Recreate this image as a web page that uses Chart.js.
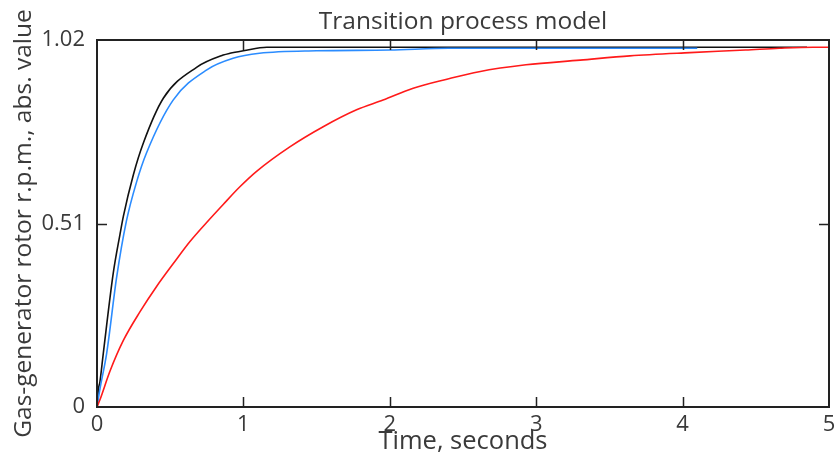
<!DOCTYPE html>
<html>
<head>
<meta charset="utf-8">
<script src="https://cdn.jsdelivr.net/npm/chart.js@4"></script>
<style>
  body { margin: 0; background: #fff; }
  #wrap { width: 836px; height: 457px; }
</style>
</head>
<body>
<div id="wrap"><canvas id="grafico" width="836" height="457"></canvas></div>
<script>
const tempoPreto = [0, 0.01, 0.02, 0.043, 0.111, 0.157, 0.18, 0.248, 0.316, 0.453, 0.68, 0.862, 0.908, 1.0, 1.16, 2.0, 3.0, 4.0, 4.85]
const valorPreto = [0, 0.05, 0.07, 0.149, 0.372, 0.48, 0.53, 0.645, 0.733, 0.858, 0.944, 0.978, 0.983, 0.99, 1.0, 1.0, 1.0, 1.0, 1.0]

const tempoAzul = [0, 0.02, 0.066, 0.134, 0.2, 0.27, 0.338, 0.52, 0.75, 0.93, 1.11, 1.5, 2.0, 2.4, 3.0, 4.1]
const valorAzul = [0, 0.05, 0.149, 0.36, 0.515, 0.625, 0.706, 0.853, 0.937, 0.969, 0.983, 0.99, 0.992, 0.997, 0.997, 0.997]

const tempoVermelho = [0, 0.02, 0.089, 0.18, 0.294, 0.407, 0.52, 0.635, 0.749, 0.862, 0.976, 1.09, 1.317, 1.545, 1.773, 1.954, 2.16, 2.39, 2.61, 2.93, 3.3, 3.64, 4.05, 4.43, 4.66, 4.89, 5.0]
const valorVermelho = [0, 0.02, 0.1, 0.185, 0.265, 0.335, 0.398, 0.46, 0.513, 0.563, 0.612, 0.655, 0.723, 0.779, 0.826, 0.853, 0.886, 0.911, 0.932, 0.951, 0.964, 0.976, 0.985, 0.992, 0.997, 1.0, 1.0]

const ticksY = [0, 0.51, 1.02]
const labelsY = ['0', '0.51', '1.02']
const ticksX = [0, 1, 2, 3, 4, 5]

function pontos(tempos, valores) {
    return tempos.map((t, i) => ({ x: t, y: valores[i] }))
}

const fonte = 'Open Sans'
const corTexto = '#3a3a3a'

// moldura e tracinhos para dentro
const moldura = {
    id: 'moldura',
    afterDraw(chart) {
        const ctx = chart.ctx
        const area = chart.chartArea
        const sx = chart.scales.x
        const sy = chart.scales.y
        const tam = 10
        ctx.save()
        ctx.strokeStyle = '#222'
        ctx.lineWidth = 2
        ctx.strokeRect(area.left, area.top, area.right - area.left, area.bottom - area.top)
        ctx.lineWidth = 1.5
        ctx.beginPath()
        for (let i = 1; i < ticksX.length - 1; i++) {
            const px = Math.round(sx.getPixelForValue(ticksX[i])) + 0.5
            ctx.moveTo(px, area.top)
            ctx.lineTo(px, area.top + tam)
            ctx.moveTo(px, area.bottom)
            ctx.lineTo(px, area.bottom - tam)
        }
        for (let i = 1; i < ticksY.length - 1; i++) {
            const py = Math.round(sy.getPixelForValue(ticksY[i])) + 0.5
            ctx.moveTo(area.left, py)
            ctx.lineTo(area.left + tam, py)
            ctx.moveTo(area.right, py)
            ctx.lineTo(area.right - tam, py)
        }
        ctx.stroke()
        ctx.restore()
    }
}

new Chart(document.getElementById('grafico'), {
    type: 'line',
    data: {
        datasets: [
            { data: pontos(tempoVermelho, valorVermelho), borderColor: '#ff1a1a', borderWidth: 1.6 },
            { data: pontos(tempoAzul, valorAzul), borderColor: '#2b8cff', borderWidth: 1.6 },
            { data: pontos(tempoPreto, valorPreto), borderColor: '#111111', borderWidth: 1.6 }
        ]
    },
    options: {
        responsive: false,
        animation: false,
        events: [],
        layout: { padding: { left: 0, right: 7, top: 0, bottom: 0 } },
        elements: { point: { radius: 0 }, line: { cubicInterpolationMode: 'monotone' } },
        plugins: {
            legend: { display: false },
            tooltip: { enabled: false }
        },
        scales: {
            x: {
                type: 'linear',
                position: 'bottom',
                min: 0,
                max: 5,
                afterBuildTicks: (scale) => { scale.ticks = ticksX.map(v => ({ value: v })) },
                afterFit: (scale) => { scale.height = 50 },
                grid: { display: false },
                border: { display: false },
                ticks: { color: corTexto, font: { family: fonte, size: 22 }, padding: -3, maxRotation: 0, autoSkip: false },
                title: { display: true, text: 'Time, seconds', color: corTexto, font: { family: fonte, size: 25.5 }, padding: { top: 0, bottom: 0 } }
            },
            topo: {
                type: 'linear',
                position: 'top',
                min: 0,
                max: 5,
                afterFit: (scale) => { scale.height = 40 },
                grid: { display: false },
                border: { display: false },
                ticks: { display: false },
                title: { display: true, text: 'Transition process model', color: corTexto, font: { family: fonte, size: 24.5 }, padding: { top: 7, bottom: 0 } }
            },
            y: {
                type: 'linear',
                min: 0,
                max: 1.02,
                afterBuildTicks: (scale) => { scale.ticks = ticksY.map(v => ({ value: v })) },
                afterFit: (scale) => { scale.width = 97 },
                grid: { display: false },
                border: { display: false },
                ticks: {
                    color: corTexto,
                    font: { family: fonte, size: 22 },
                    padding: 4,
                    callback: (valor) => labelsY[ticksY.indexOf(valor)]
                },
                title: { display: true, text: 'Gas-generator rotor r.p.m., abs. value', color: corTexto, font: { family: fonte, size: 24.5 }, padding: { top: 9, bottom: 0 } }
            }
        }
    },
    plugins: [moldura]
})
</script>
</body>
</html>
